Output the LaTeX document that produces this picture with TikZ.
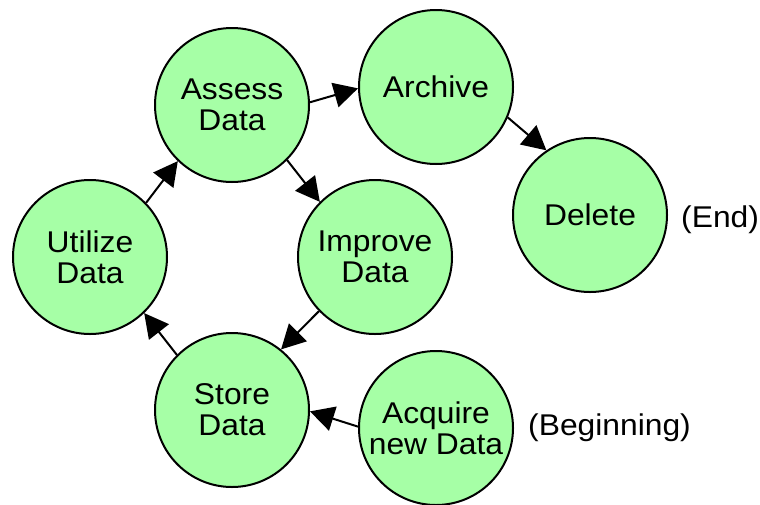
\documentclass[tikz,border=0pt]{standalone}
\usepackage{fontspec}
\setmainfont[FakeStretch=1.06]{Liberation Sans}
\usepackage{tikz}
\usetikzlibrary{arrows.meta, positioning}
\definecolor{dlGreen}{HTML}{A6FFA6}

\begin{document}
\begin{tikzpicture}[
  x=1pt, y=-1pt,
  font=\fontsize{30}{31}\selectfont,
  stage/.style={circle, draw=black, fill=dlGreen, line width=2pt,
                minimum size=154pt, inner sep=0pt, align=center},
  note/.style={anchor=base west, inner sep=0pt},
  arr/.style={-{Triangle[length=24pt, width=25pt]}, line width=2pt},
]
\useasboundingbox (0,0) rectangle (760,504);

\node[stage] (assess)  at (232,105) {Assess\\Data};
\node[stage] (archive) at (436,87)  {Archive};
\node[stage] (delete)  at (590,215) {Delete};
\node[stage] (improve) at (375,257) {Improve\\Data};
\node[stage] (utilize) at (90,257)  {Utilize\\Data};
\node[stage] (store)   at (232,410) {Store\\Data};
\node[stage] (acquire) at (436,428) {Acquire\\new Data};

\node[note] (endnote)   at (681,227) {(End)};
\node[note] (beginnote) at (528,435) {(Beginning)};

\draw[arr] (assess.2) -- (archive.181);
\draw[arr] (archive.-23) -- (delete.124);
\draw[arr] (assess.-45) -- (improve.135);
\draw[arr] (improve.224) -- (store.51);
\draw[arr] (store.135) -- (utilize.-46);
\draw[arr] (utilize.44) -- (assess.226);
\draw[arr] (acquire.179) -- (store.-1);
\end{tikzpicture}
\end{document}
